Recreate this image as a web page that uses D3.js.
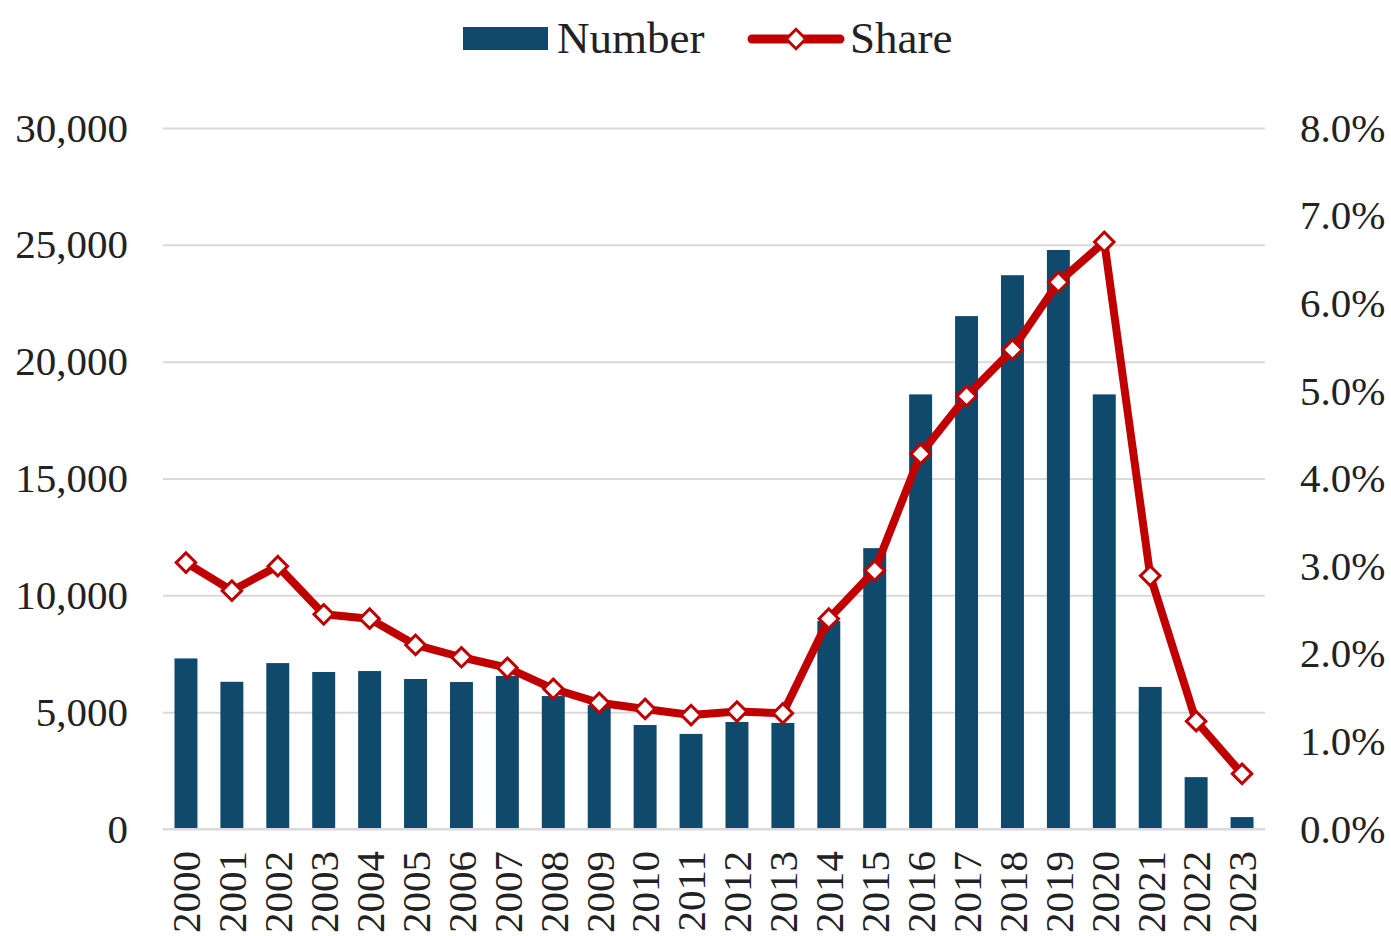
<!DOCTYPE html>
<html>
<head>
<meta charset="utf-8">
<script src="https://cdn.jsdelivr.net/npm/d3@7"></script>
<style>
  body { margin: 0; background: #fff; }
  text { font-family: "Liberation Serif", "Times New Roman", serif; fill: #222; }
</style>
</head>
<body>
<div class="container"></div>
<script>
const years = ['2000', '2001', '2002', '2003', '2004', '2005', '2006', '2007', '2008', '2009', '2010', '2011',
  '2012', '2013', '2014', '2015', '2016', '2017', '2018', '2019', '2020', '2021', '2022', '2023'];
const numbers = [7300, 6300, 7100, 6720, 6760, 6420, 6290, 6550, 5690, 5300, 4450, 4070,
  4580, 4540, 8900, 12020, 18600, 21950, 23700, 24780, 18600, 6080, 2220, 510];
const shares = [3.04, 2.72, 3.0, 2.45, 2.40, 2.10, 1.96, 1.84, 1.60, 1.44, 1.37, 1.30,
  1.34, 1.32, 2.40, 2.95, 4.28, 4.94, 5.47, 6.24, 6.70, 2.89, 1.23, 0.63];
const leftTicks = [0, 5000, 10000, 15000, 20000, 25000, 30000];
const rightTicks = [0, 1, 2, 3, 4, 5, 6, 7, 8];

const width = 1391;
const height = 936;
const plotLeft = 163;
const plotRight = 1265;
const plotTop = 128;
const plotBottom = 829;
const barColor = '#0f4a6c';
const lineColor = '#c00000';

const svg = d3.select('.container').append('svg').attr('width', width).attr('height', height);

//scales
const xScale = d3.scaleBand().domain(years).range([plotLeft, plotRight]).paddingInner(0.5).paddingOuter(0.25);
const yLeft = d3.scaleLinear().domain([0, 30000]).range([plotBottom, plotTop]);
const yRight = d3.scaleLinear().domain([0, 8]).range([plotBottom, plotTop]);

//gridlines
const grid = svg.append('g').attr('class', 'grid').attr('transform', `translate(${plotLeft},0)`);
d3.axisLeft(yLeft).tickValues(leftTicks).tickSize(-(plotRight - plotLeft)).tickFormat('')(grid);
grid.select('.domain').remove();
grid.selectAll('line').attr('stroke', '#d9d9d9').attr('stroke-width', 2);

//left axis
const leftAxisGroup = svg.append('g').attr('transform', `translate(${plotLeft},0)`);
d3.axisLeft(yLeft).tickValues(leftTicks).tickSize(0).tickPadding(35).tickFormat(d3.format(','))(leftAxisGroup);
leftAxisGroup.select('.domain').remove();
leftAxisGroup.selectAll('text').attr('font-size', 41).attr('font-family', null).attr('fill', '#222');

//right axis
const rightAxisGroup = svg.append('g').attr('transform', `translate(${plotRight},0)`);
d3.axisRight(yRight).tickValues(rightTicks).tickSize(0).tickPadding(35).tickFormat(d => d.toFixed(1) + '%')(rightAxisGroup);
rightAxisGroup.select('.domain').remove();
rightAxisGroup.selectAll('text').attr('font-size', 41).attr('font-family', null).attr('fill', '#222');

//bars
svg.append('g').selectAll('rect')
  .data(years)
  .join('rect')
  .attr('x', d => xScale(d))
  .attr('width', xScale.bandwidth())
  .attr('y', (d, i) => yLeft(numbers[i]))
  .attr('height', (d, i) => yLeft(0) - yLeft(numbers[i]))
  .attr('fill', barColor);

//bottom axis
const bottomAxisGroup = svg.append('g').attr('transform', `translate(0,${plotBottom})`);
d3.axisBottom(xScale).tickSize(0).tickPadding(0)(bottomAxisGroup);
bottomAxisGroup.select('.domain').attr('d', `M${plotLeft},0H${plotRight}`).attr('stroke', '#d9d9d9').attr('stroke-width', 2);
bottomAxisGroup.selectAll('text')
  .attr('font-size', 41)
  .attr('font-family', null)
  .attr('fill', '#222')
  .attr('text-anchor', 'end')
  .attr('transform', 'rotate(-90)')
  .attr('x', -22)
  .attr('y', 0)
  .attr('dy', '0.35em');

//share line
const cx = i => xScale(years[i]) + xScale.bandwidth() / 2;
const line = d3.line()
  .x((d, i) => cx(i))
  .y(d => yRight(d));

svg.append('path')
  .attr('d', line(shares))
  .attr('fill', 'none')
  .attr('stroke', lineColor)
  .attr('stroke-width', 8)
  .attr('stroke-linejoin', 'round');

const marker = d3.symbol().type(d3.symbolSquare).size(190);
svg.append('g').selectAll('path')
  .data(shares)
  .join('path')
  .attr('d', marker)
  .attr('transform', (d, i) => `translate(${cx(i)},${yRight(d)}) rotate(45)`)
  .attr('fill', '#fff')
  .attr('stroke', lineColor)
  .attr('stroke-width', 3);

//legend
const legend = svg.append('g').attr('class', 'legend');
legend.append('rect').attr('x', 463).attr('y', 27).attr('width', 85).attr('height', 23).attr('fill', barColor);
legend.append('text').text('Number').attr('x', 557).attr('y', 53).attr('font-size', 45);
legend.append('line').attr('x1', 752).attr('x2', 840).attr('y1', 39).attr('y2', 39)
  .attr('stroke', lineColor).attr('stroke-width', 9).attr('stroke-linecap', 'round');
legend.append('path').attr('d', marker).attr('transform', 'translate(796,39) rotate(45)')
  .attr('fill', '#fff').attr('stroke', lineColor).attr('stroke-width', 3);
legend.append('text').text('Share').attr('x', 850).attr('y', 53).attr('font-size', 45);
</script>
</body>
</html>
